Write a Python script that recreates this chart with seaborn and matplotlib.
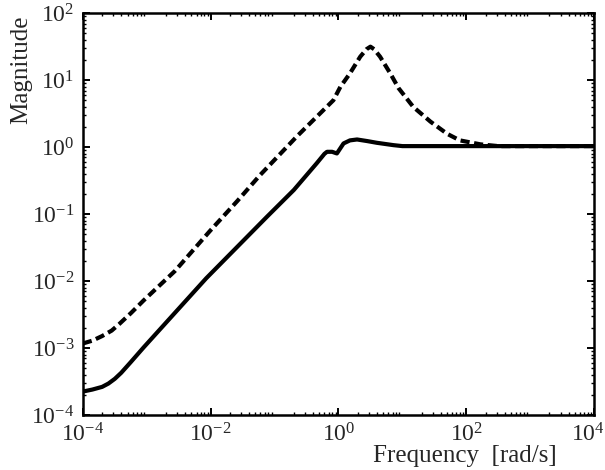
import matplotlib
matplotlib.use("Agg")
import matplotlib.pyplot as plt
import matplotlib.ticker as mticker
import matplotlib.transforms as mtransforms
import seaborn as sns

# frequency [rad/s] / magnitude
freq_dashed = [1.0e-4, 1.41e-4, 2.0e-4, 2.82e-4, 3.72e-4, 5.62e-4, 8.91e-4, 2.75e-3,
               9.77e-3, 2.63e-2, 5.89e-2, 0.224, 0.832, 1.07, 1.51, 2.19, 2.75, 3.16,
               3.6, 4.47, 6.46, 8.71, 14.8, 27.5, 50.1, 79.4, 166, 316, 1e4]
mag_dashed = [1.17e-3, 1.29e-3, 1.51e-3, 1.82e-3, 2.29e-3, 3.31e-3, 5.13e-3, 1.41e-2,
              5.62e-2, 0.158, 0.380, 1.45, 5.01, 7.94, 12.6, 22.4, 29.0, 31.6,
              29.0, 22.4, 12.6, 7.59, 3.98, 2.40, 1.58, 1.26, 1.10, 1.035, 1.035]

freq_solid = [1.0e-4, 1.41e-4, 2.0e-4, 2.51e-4, 3.16e-4, 3.98e-4, 5.62e-4, 8.91e-4,
              8.51e-3, 7.59e-2, 0.200, 0.457, 0.603, 0.661, 0.794, 0.944, 1.20, 1.51,
              1.95, 2.82, 3.98, 7.24, 10, 1e4]
mag_solid = [2.24e-4, 2.40e-4, 2.63e-4, 2.95e-4, 3.47e-4, 4.27e-4, 6.17e-4, 1.02e-3,
             1.10e-2, 9.12e-2, 0.229, 0.575, 0.794, 0.851, 0.851, 0.804, 1.135, 1.26,
             1.30, 1.23, 1.16, 1.07, 1.035, 1.035]

sns.set_style("ticks", {"xtick.direction": "in", "ytick.direction": "in"})
plt.rcParams["font.family"] = ["Liberation Serif", "DejaVu Serif"]
plt.rcParams["mathtext.fontset"] = "custom"
plt.rcParams["mathtext.rm"] = "Liberation Serif"
plt.rcParams["mathtext.it"] = "Liberation Serif:italic"

fig = plt.figure(figsize=(6.05, 4.70), dpi=100)
ax = fig.add_axes([0.137, 0.117, 0.845, 0.855])
ax.set_xscale("log")
ax.set_yscale("log")

sns.lineplot(x=freq_dashed, y=mag_dashed, ax=ax, color="black", linewidth=3.0,
             linestyle=(0, (2.2, 1.1)), estimator=None, sort=False)
sns.lineplot(x=freq_solid, y=mag_solid, ax=ax, color="black", linewidth=3.0,
             estimator=None, sort=False)

ax.set_xlim(1e-4, 1e4)
ax.set_ylim(1e-4, 1e2)
ax.xaxis.set_major_locator(mticker.FixedLocator([1e-4, 1e-2, 1e0, 1e2, 1e4]))
ax.yaxis.set_major_locator(mticker.LogLocator(base=10, numticks=10))
ax.xaxis.set_minor_locator(mticker.LogLocator(base=10, subs=range(2, 10), numticks=20))
ax.yaxis.set_minor_locator(mticker.LogLocator(base=10, subs=range(2, 10), numticks=20))
ax.xaxis.set_minor_formatter(mticker.NullFormatter())
ax.yaxis.set_minor_formatter(mticker.NullFormatter())

for s in ax.spines.values():
    s.set_linewidth(1.8)
    s.set_color("black")
ax.tick_params(which="both", direction="in", top=True, right=True, color="black")
ax.tick_params(which="major", length=5, width=1.4, labelsize=17, pad=6)
ax.tick_params(which="minor", length=2.5, width=1.0)

# keep the last x tick label inside the figure
last = ax.get_xticklabels()[-1]
last.set_transform(last.get_transform() +
                   mtransforms.ScaledTranslation(-6 / 100, 0, fig.dpi_scale_trans))

ax.set_ylabel("Magnitude", fontsize=18)
ax.yaxis.set_label_coords(-0.1, 0.86)
ax.set_xlabel("Frequency  [rad/s]", fontsize=18)
ax.xaxis.set_label_coords(0.748, -0.074)

fig.savefig("out.png", dpi=100)
plt.close()
